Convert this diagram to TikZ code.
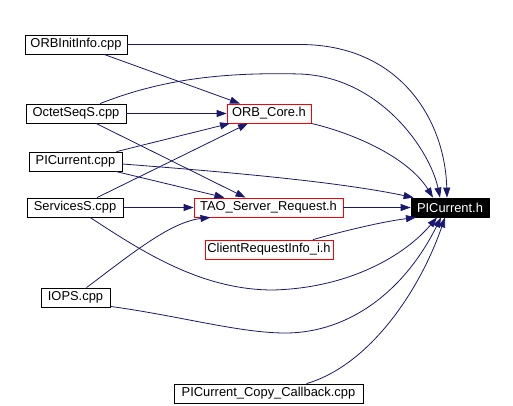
\documentclass[tikz,border=0pt]{standalone}
\usepackage{fontspec}
\setmainfont{Liberation Sans}
\usetikzlibrary{arrows.meta}
\definecolor{edgeblue}{HTML}{191970}
\tikzset{
  file/.style={draw=black, line width=0.8pt, minimum height=19pt, inner sep=0pt, font=\fontsize{12.9}{14}\selectfont},
  header/.style={file, draw=red},
  current/.style={file, fill=black, text=white},
  dep/.style={edgeblue, line width=0.8pt, -{Triangle[length=10pt,width=7pt]}}
}
\begin{document}
\begin{tikzpicture}[x=1pt,y=-1pt]
\path[fill=white,use as bounding box] (0,0) rectangle (513,406);
% files
\node[file,minimum width=102pt] (oii) at (76,44.5) {ORBInitInfo.cpp};
\node[file,minimum width=100pt] (oss) at (76,113.5) {OctetSeqS.cpp};
\node[file,minimum width=93pt] (pic) at (75.5,161.5) {PICurrent.cpp};
\node[file,minimum width=96pt] (svc) at (75,207.5) {ServicesS.cpp};
\node[file,minimum width=69pt] (iops) at (75.5,297.5) {IOPS.cpp};
\node[header,minimum width=84pt] (orb) at (269,113.5) {ORB\_Core.h};
\node[header,minimum width=149pt] (tao) at (268.5,207.5) {TAO\_Server\_Request.h};
\node[header,minimum width=128pt] (cri) at (269,249.5) {ClientRequestInfo\_i.h};
\node[file,minimum width=189pt] (cb) at (268.5,393.5) {PICurrent\_Copy\_Callback.cpp};
\node[current,minimum width=78pt] (pch) at (450,207.5) {PICurrent.h};
% straight edges
\draw[dep] ([xshift=28pt]oii.south) -- ([xshift=-29pt]orb.north);
\draw[dep] (oss.east) -- (orb.west);
\draw[dep] ([xshift=20pt]oss.south) -- ([xshift=-23pt]tao.north);
\draw[dep] ([xshift=41pt]pic.north) -- ([xshift=-39pt]orb.south);
\draw[dep] ([xshift=40pt]pic.south) -- ([xshift=-44pt]tao.north);
\draw[dep] ([xshift=22pt]svc.north) -- ([xshift=-21pt]orb.south);
\draw[dep] (svc.east) -- (tao.west);
\draw[dep] (tao.east) -- (pch.west);
% curved edges
\draw[dep] (oii.east) -- (300,44.5) .. controls (400,44.5) and (445,120) .. ([xshift=-3pt]pch.north);
\draw[dep] ([xshift=24pt]oss.north) .. controls (160,80) and (220,72) .. (300,74) .. controls (380,77) and (430,150) .. ([xshift=-10pt]pch.north);
\draw[dep] (orb.south east) .. controls (360,135) and (410,160) .. ([xshift=-17pt]pch.north);
\draw[dep] ([yshift=-2.5pt]pic.east) .. controls (200,170) and (330,180) .. ([xshift=3pt]pch.north west);
\draw[dep] ([xshift=15pt]svc.south) .. controls (140,250) and (200,290) .. (273,290) .. controls (350,288) and (405,255) .. ([xshift=-13pt]pch.south);
\draw[dep] ([xshift=44pt]cri.north) .. controls (340,232) and (380,222) .. ([xshift=-34pt]pch.south);
\draw[dep] ([xshift=11pt]iops.north) .. controls (130,255) and (170,222) .. ([xshift=-58pt]tao.south);
\draw[dep] ([yshift=1pt]iops.south east) .. controls (180,316) and (240,333) .. (285,333) .. controls (350,333) and (405,290) .. ([xshift=-9pt]pch.south);
\draw[dep] ([xshift=38pt]cb.north) .. controls (370,365) and (420,290) .. ([xshift=-5pt]pch.south);
\end{tikzpicture}
\end{document}
